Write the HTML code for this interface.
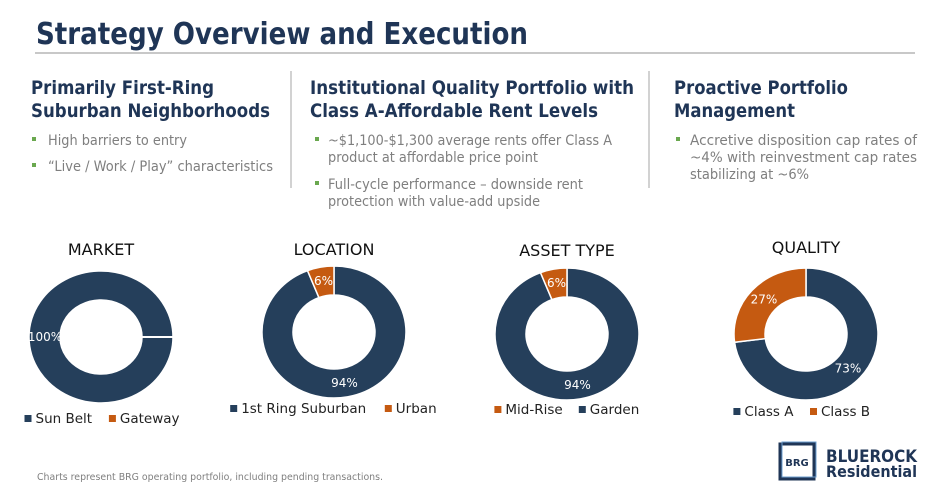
<!DOCTYPE html>
<html><head><meta charset="utf-8"><style>
body{margin:0;background:#fff;}
svg{display:block;font-family:"DejaVu Sans","Liberation Sans",sans-serif;}
.h{font-weight:bold;fill:#1f3556;font-size:19px;}
.b{fill:#7f7f7f;font-size:14px;}
.t{fill:#111;font-size:16px;}
.lg{fill:#222;font-size:13.5px;}
</style></head><body>
<svg id="s" width="939" height="492" viewBox="0 0 939 492">
<text x="36" y="44" font-size="30" font-weight="bold" fill="#1f3556" textLength="492" lengthAdjust="spacingAndGlyphs">Strategy Overview and Execution</text>
<line x1="35" y1="53" x2="915" y2="53" stroke="#a6a6a6" stroke-width="1.2"/>
<line x1="291" y1="71" x2="291" y2="188" stroke="#a6a6a6"/>
<line x1="649" y1="71" x2="649" y2="188" stroke="#a6a6a6"/>

<g>
<text class="h" x="31" y="94" textLength="183" lengthAdjust="spacingAndGlyphs">Primarily First-Ring</text>
<text class="h" x="31" y="117" textLength="239" lengthAdjust="spacingAndGlyphs">Suburban Neighborhoods</text>
<rect x="32" y="137" width="4" height="4" fill="#6aa84f"/>
<text class="b" x="48" y="145" textLength="139" lengthAdjust="spacingAndGlyphs">High barriers to entry</text>
<rect x="32" y="163" width="4" height="4" fill="#6aa84f"/>
<text class="b" x="48" y="171" textLength="225" lengthAdjust="spacingAndGlyphs">“Live / Work / Play” characteristics</text>
</g>
<g>
<text class="h" x="310" y="94" textLength="324" lengthAdjust="spacingAndGlyphs">Institutional Quality Portfolio with</text>
<text class="h" x="310" y="117" textLength="288" lengthAdjust="spacingAndGlyphs">Class A-Affordable Rent Levels</text>
<rect x="315" y="137" width="4" height="4" fill="#6aa84f"/>
<text class="b" x="328" y="145" textLength="284" lengthAdjust="spacingAndGlyphs">~$1,100-$1,300 average rents offer Class A</text>
<text class="b" x="328" y="162" textLength="210" lengthAdjust="spacingAndGlyphs">product at affordable price point</text>
<rect x="315" y="181" width="4" height="4" fill="#6aa84f"/>
<text class="b" x="328" y="189" textLength="255" lengthAdjust="spacingAndGlyphs">Full-cycle performance – downside rent</text>
<text class="b" x="328" y="206" textLength="212" lengthAdjust="spacingAndGlyphs">protection with value-add upside</text>
</g>
<g>
<text class="h" x="674" y="94" textLength="174" lengthAdjust="spacingAndGlyphs">Proactive Portfolio</text>
<text class="h" x="674" y="117" textLength="121" lengthAdjust="spacingAndGlyphs">Management</text>
<rect x="676" y="137" width="4" height="4" fill="#6aa84f"/>
<text class="b" x="690" y="145" textLength="227" lengthAdjust="spacingAndGlyphs">Accretive disposition cap rates of</text>
<text class="b" x="690" y="162" textLength="227" lengthAdjust="spacingAndGlyphs">~4% with reinvestment cap rates</text>
<text class="b" x="690" y="179" textLength="119" lengthAdjust="spacingAndGlyphs">stabilizing at ~6%</text>
</g>

<g id="charts"></g>

<text x="37" y="480" font-size="10" fill="#7f7f7f" textLength="346" lengthAdjust="spacingAndGlyphs">Charts represent BRG operating portfolio, including pending transactions.</text>
<g>
<rect x="780" y="444" width="34" height="35" fill="none" stroke="#1f3556" stroke-width="3"/>
<rect x="780" y="444" width="34" height="35" fill="none" stroke="#6d9fd0" stroke-width="1" transform="translate(2,-2)"/>
<text x="797" y="466" font-size="10" font-weight="bold" fill="#1f3556" text-anchor="middle">BRG</text>
<text x="826" y="462" font-size="17" font-weight="bold" fill="#1f3556" textLength="91" lengthAdjust="spacingAndGlyphs">BLUEROCK</text>
<text x="826" y="477" font-size="16" font-weight="bold" fill="#1f3556" textLength="91" lengthAdjust="spacingAndGlyphs">Residential</text>
</g>
</svg>
<script>
const chartTitles = ["MARKET","LOCATION","ASSET TYPE","QUALITY"];
const darkLabels = ["Sun Belt","1st Ring Suburban","Garden","Class A"];
const orangeLabels = ["Gateway","Urban","Mid-Rise","Class B"];
const darkValues = [100,94,94,73];
const orangeValues = [0,6,6,27];
const startAngles = [90,0,0,0];
const centers=[[101,337],[334,332],[567,334],[806,334]];
const titleY=[255,255,256,253];
const legendY=[423,413,414,416];
const DARK="#253f5b",ORANGE="#c55a11";
const NS="http://www.w3.org/2000/svg";
const g=document.getElementById('charts');
function mk(t,a){const e=document.createElementNS(NS,t);for(const k in a)e.setAttribute(k,a[k]);return e;}
function pt(cx,cy,rx,ry,deg){const r=(deg-90)*Math.PI/180;return [cx+rx*Math.cos(r),cy+ry*Math.sin(r)];}
function arc(cx,cy,a0,a1){const RX=72,RY=66,rx=41,ry=37;
 if(a1-a0>=359.99){a1=a0+359.99;}
 const L=(a1-a0)>180?1:0;
 const p1=pt(cx,cy,RX,RY,a0),p2=pt(cx,cy,RX,RY,a1),p3=pt(cx,cy,rx,ry,a1),p4=pt(cx,cy,rx,ry,a0);
 return `M${p1} A${RX},${RY} 0 ${L} 1 ${p2} L${p3} A${rx},${ry} 0 ${L} 0 ${p4} Z`;}
chartTitles.forEach((title,i)=>{
 const [cx,cy]=centers[i];
 const grp=mk('g',{});
 
 
 g.appendChild(grp);
 const tt=mk('text',{x:cx,y:titleY[i],class:'t','text-anchor':'middle'});tt.textContent=title;
 
 
 grp.appendChild(tt);
 const tot=darkValues[i]+orangeValues[i];
 const s=startAngles[i];
 const dEnd=s+darkValues[i]/tot*360;
 const segs=[[s,dEnd,DARK,darkValues[i],'slice-dark'],[dEnd,s+360,ORANGE,orangeValues[i],'slice-orange']];
 segs.forEach(([a0,a1,c,v,nm])=>{
  if(v<=0)return;
  const p=mk('path',{d:arc(cx,cy,a0,a1),fill:c,stroke:'#fff','stroke-width':1.5});
  
  
  grp.appendChild(p);
  let mid=(a0+a1)/2; let lp=pt(cx,cy,56,52,mid);
  if(v>=100){lp=pt(cx,cy,56,52,270);}
  const lt=mk('text',{x:lp[0],y:lp[1]+4,'font-size':12,fill:'#fff','text-anchor':'middle'});
  lt.textContent=v+'%';
  
  
  grp.appendChild(lt);
 });
 if(darkValues[i]>=tot){const q=pt(cx,cy,41,37,s),r=pt(cx,cy,72,66,s);
  grp.appendChild(mk('line',{x1:q[0],y1:q[1],x2:r[0],y2:r[1],stroke:'#fff','stroke-width':2}));}
 const order = i===2?[[ORANGE,orangeLabels[i]],[DARK,darkLabels[i]]]:[[DARK,darkLabels[i]],[ORANGE,orangeLabels[i]]];
 const lg=mk('g',{});
 
 
 grp.appendChild(lg);
 const w=order.map(o=>o[1].length*7.8+14);
 const total=w[0]+w[1]+8;
 let x=cx-total/2; const y=legendY[i];
 order.forEach(([c,l],k)=>{
  const e=mk('g',{});
  
  
  e.appendChild(mk('rect',{x:x,y:y-8,width:7,height:7,fill:c}));
  const t=mk('text',{x:x+11,y:y,class:'lg'});t.textContent=l;e.appendChild(t);
  lg.appendChild(e); x+=w[k]+8;
 });
});
</script>
</body></html>
